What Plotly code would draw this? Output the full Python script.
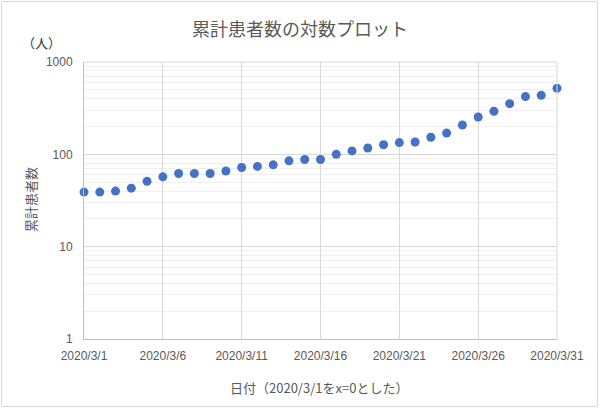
import plotly.graph_objects as go

dates = ["2020-03-%02d" % d for d in range(1, 32)]
patients = [39, 39, 40, 43, 51, 57, 62, 62, 62, 66, 72, 74, 77, 85, 88, 88,
            100, 109, 117, 127, 134, 136, 153, 170, 208, 254, 293, 354, 422, 437, 520]

title_text = "累計患者数の対数プロット"
x_title = "日付（2020/3/1をx=0とした）"
y_title = "累計患者数"
unit_text = "（人）"

JP = "Noto Sans CJK JP"
NUM = "Liberation Sans, Arial, sans-serif"
GRAY = "#595959"

L, R, T, B = 84, 43, 62, 70
W, H = 600, 409
pw, ph = W - L - R, H - T - B

def px_x(p):
    return (p - L) / pw

def px_y(p):
    return (H - B - p) / ph

fig = go.Figure()
fig.add_trace(go.Scatter(
    x=dates, y=patients, mode="markers",
    marker=dict(color="#4472C4", size=9),
    cliponaxis=False, hoverinfo="x+y",
))

fig.update_layout(
    width=W, height=H,
    margin=dict(l=L, r=R, t=T, b=B),
    paper_bgcolor="white", plot_bgcolor="white",
    showlegend=False,
    xaxis=dict(
        type="date",
        range=["2020-03-01", "2020-03-31"],
        tick0="2020-03-01", dtick=5 * 86400000,
        tickformat="%Y/%-m/%-d",
        showgrid=True, gridcolor="#d9d9d9", gridwidth=1,
        showline=True, linecolor="#bfbfbf", linewidth=1,
        mirror=False, ticks="", zeroline=False,
        tickfont=dict(family=NUM, size=12, color=GRAY),
        ticklabelstandoff=6,
    ),
    yaxis=dict(
        type="log", range=[0, 3],
        tickvals=[1, 10, 100, 1000],
        ticktext=["1", "10", "100", "1000"],
        showgrid=True, gridcolor="#d9d9d9", gridwidth=1,
        showline=True, linecolor="#bfbfbf", linewidth=1,
        ticks="", zeroline=False,
        tickfont=dict(family=NUM, size=12, color=GRAY),
        ticklabelstandoff=8,
        minor=dict(dtick="D1", showgrid=True, gridcolor="#efefef", gridwidth=1, ticks=""),
    ),
    shapes=[
        dict(type="line", xref="paper", yref="paper", x0=0, x1=1, y0=1, y1=1,
             line=dict(color="#d9d9d9", width=1)),
        dict(type="line", xref="paper", yref="paper", x0=1, x1=1, y0=0, y1=1,
             line=dict(color="#d9d9d9", width=1)),
        dict(type="rect", xref="paper", yref="paper",
             x0=px_x(1.5), x1=px_x(597.5), y0=px_y(406.5), y1=px_y(1.5),
             line=dict(color="#d9d9d9", width=1), layer="below"),
    ],
    annotations=[
        dict(text=title_text, xref="paper", yref="paper", x=px_x(300), y=px_y(28),
             showarrow=False, xanchor="center", yanchor="middle",
             font=dict(family=JP, size=18, color=GRAY)),
        dict(text=unit_text, xref="paper", yref="paper", x=px_x(20), y=px_y(43),
             showarrow=False, xanchor="left", yanchor="middle",
             font=dict(family=JP, size=13, color="#333333")),
        dict(text=x_title, xref="paper", yref="paper", x=px_x(319), y=px_y(387),
             showarrow=False, xanchor="center", yanchor="middle",
             font=dict(family=JP, size=13, color=GRAY)),
        dict(text=y_title, xref="paper", yref="paper", x=px_x(30), y=px_y(200),
             showarrow=False, xanchor="center", yanchor="middle", textangle=-90,
             font=dict(family=JP, size=13, color=GRAY)),
    ],
)

fig.write_html("out.html", config={"displayModeBar": False},
               post_script="document.body.style.margin='0';")
